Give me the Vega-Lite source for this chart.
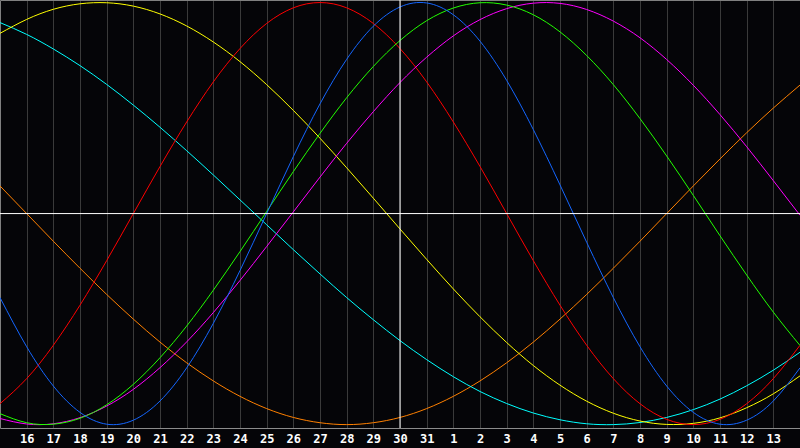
{
  "$schema": "https://vega.github.io/schema/vega-lite/v6.json",
  "width": 800,
  "height": 428,
  "autosize": {"type": "none"},
  "padding": {"left": 0, "top": 0, "right": 0, "bottom": 20},
  "background": "#050508",
  "config": {"view": {"stroke": null}},
  "layer": [
    {
      "data": {"values": [
        {"t":0,"physical":-0.398,"emotional":-0.901,"intellectual":-0.948,"intuitive":-0.971,"aesthetic":0.854,"awareness":0.131,"spiritual":0.905},
        {"t":1,"physical":-0.631,"emotional":-0.782,"intellectual":-0.991,"intuitive":-0.997,"aesthetic":0.920,"awareness":0,"spiritual":0.849},
        {"t":2,"physical":-0.817,"emotional":-0.624,"intellectual":-0.998,"intuitive":-0.996,"aesthetic":0.968,"awareness":-0.131,"spiritual":0.780},
        {"t":3,"physical":-0.942,"emotional":-0.434,"intellectual":-0.970,"intuitive":-0.967,"aesthetic":0.994,"awareness":-0.259,"spiritual":0.701},
        {"t":4,"physical":-0.998,"emotional":-0.223,"intellectual":-0.906,"intuitive":-0.912,"aesthetic":0.999,"awareness":-0.383,"spiritual":0.612},
        {"t":5,"physical":-0.979,"emotional":0,"intellectual":-0.809,"intuitive":-0.833,"aesthetic":0.983,"awareness":-0.5,"spiritual":0.514},
        {"t":6,"physical":-0.888,"emotional":0.223,"intellectual":-0.683,"intuitive":-0.730,"aesthetic":0.946,"awareness":-0.609,"spiritual":0.409},
        {"t":7,"physical":-0.731,"emotional":0.434,"intellectual":-0.533,"intuitive":-0.608,"aesthetic":0.889,"awareness":-0.707,"spiritual":0.298},
        {"t":8,"physical":-0.520,"emotional":0.624,"intellectual":-0.363,"intuitive":-0.469,"aesthetic":0.813,"awareness":-0.793,"spiritual":0.183},
        {"t":9,"physical":-0.270,"emotional":0.782,"intellectual":-0.180,"intuitive":-0.317,"aesthetic":0.720,"awareness":-0.866,"spiritual":0.065},
        {"t":10,"physical":0,"emotional":0.901,"intellectual":0.010,"intuitive":-0.156,"aesthetic":0.611,"awareness":-0.924,"spiritual":-0.053},
        {"t":11,"physical":0.270,"emotional":0.975,"intellectual":0.199,"intuitive":0.008,"aesthetic":0.489,"awareness":-0.966,"spiritual":-0.171},
        {"t":12,"physical":0.520,"emotional":1,"intellectual":0.380,"intuitive":0.173,"aesthetic":0.357,"awareness":-0.991,"spiritual":-0.286},
        {"t":13,"physical":0.731,"emotional":0.975,"intellectual":0.549,"intuitive":0.333,"aesthetic":0.217,"awareness":-1,"spiritual":-0.398},
        {"t":14,"physical":0.888,"emotional":0.901,"intellectual":0.697,"intuitive":0.483,"aesthetic":0.073,"awareness":-0.991,"spiritual":-0.503},
        {"t":15,"physical":0.979,"emotional":0.782,"intellectual":0.820,"intuitive":0.621,"aesthetic":-0.073,"awareness":-0.966,"spiritual":-0.602},
        {"t":16,"physical":0.998,"emotional":0.624,"intellectual":0.914,"intuitive":0.741,"aesthetic":-0.217,"awareness":-0.924,"spiritual":-0.692},
        {"t":17,"physical":0.942,"emotional":0.434,"intellectual":0.974,"intuitive":0.842,"aesthetic":-0.357,"awareness":-0.866,"spiritual":-0.773},
        {"t":18,"physical":0.817,"emotional":0.223,"intellectual":0.999,"intuitive":0.919,"aesthetic":-0.489,"awareness":-0.793,"spiritual":-0.843},
        {"t":19,"physical":0.631,"emotional":0,"intellectual":0.988,"intuitive":0.971,"aesthetic":-0.611,"awareness":-0.707,"spiritual":-0.900},
        {"t":20,"physical":0.398,"emotional":-0.223,"intellectual":0.942,"intuitive":0.997,"aesthetic":-0.720,"awareness":-0.609,"spiritual":-0.945},
        {"t":21,"physical":0.136,"emotional":-0.434,"intellectual":0.861,"intuitive":0.996,"aesthetic":-0.813,"awareness":-0.5,"spiritual":-0.977},
        {"t":22,"physical":-0.136,"emotional":-0.624,"intellectual":0.749,"intuitive":0.967,"aesthetic":-0.889,"awareness":-0.383,"spiritual":-0.996},
        {"t":23,"physical":-0.398,"emotional":-0.782,"intellectual":0.611,"intuitive":0.912,"aesthetic":-0.946,"awareness":-0.259,"spiritual":-1.000},
        {"t":24,"physical":-0.631,"emotional":-0.901,"intellectual":0.450,"intuitive":0.833,"aesthetic":-0.983,"awareness":-0.131,"spiritual":-0.990},
        {"t":25,"physical":-0.817,"emotional":-0.975,"intellectual":0.273,"intuitive":0.730,"aesthetic":-0.999,"awareness":0,"spiritual":-0.966},
        {"t":26,"physical":-0.942,"emotional":-1,"intellectual":0.086,"intuitive":0.608,"aesthetic":-0.994,"awareness":0.131,"spiritual":-0.929},
        {"t":27,"physical":-0.998,"emotional":-0.975,"intellectual":-0.105,"intuitive":0.469,"aesthetic":-0.968,"awareness":0.259,"spiritual":-0.879},
        {"t":28,"physical":-0.979,"emotional":-0.901,"intellectual":-0.291,"intuitive":0.317,"aesthetic":-0.920,"awareness":0.383,"spiritual":-0.816},
        {"t":29,"physical":-0.888,"emotional":-0.782,"intellectual":-0.467,"intuitive":0.156,"aesthetic":-0.854,"awareness":0.5,"spiritual":-0.742},
        {"t":30,"physical":-0.731,"emotional":-0.624,"intellectual":-0.625,"intuitive":-0.008,"aesthetic":-0.769,"awareness":0.609,"spiritual":-0.657}
      ]},
      "transform": [
        {"fold": ["awareness","spiritual","aesthetic","emotional","intuitive","intellectual","physical"], "as": ["series","v"]}
      ],
      "mark": {"type": "line", "interpolate": "natural", "strokeWidth": 1, "clip": true},
      "encoding": {
        "x": {"field": "t", "type": "quantitative",
              "scale": {"domain": [0, 30], "nice": false, "zero": false},
              "axis": {"orient": "bottom", "title": null, "values": [1,2,3,4,5,6,7,8,9,10,11,12,13,14,15,16,17,18,19,20,21,22,23,24,25,26,27,28,29],
                       "labelExpr": "datum.value <= 16 ? datum.value + 15 : datum.value - 16",
                       "grid": true, "gridColor": "#3a3a3a", "gridWidth": 1,
                       "ticks": false, "domainColor": "#8c8c8c", "domainWidth": 1,
                       "labelColor": "#ffffff", "labelFont": "DejaVu Sans Mono", "labelFontWeight": "bold", "labelFontSize": 12,
                       "labelPadding": 5, "labelFlush": false, "labelOverlap": false}},
        "y": {"field": "v", "type": "quantitative",
              "scale": {"domain": [-1.016, 1.012], "nice": false, "zero": false},
              "axis": {"orient": "left", "title": null, "labels": false, "ticks": false, "grid": false, "domainColor": "#808080"}},
        "color": {"field": "series", "type": "nominal", "legend": null,
                  "scale": {"domain": ["physical","emotional","intellectual","intuitive","aesthetic","awareness","spiritual"],
                            "range": ["#1466ff","#ff0000","#22ff00","#ff00ff","#ffff00","#ff8000","#00ffff"]}},
        "order": {"field": "t"}
      }
    },
    {
      "data": {"values": [{}]},
      "mark": {"type": "rule", "color": "#ffffff", "strokeWidth": 1},
      "encoding": {
        "x": {"datum": 15, "axis": {"orient": "top", "title": null, "labels": false, "ticks": false, "grid": false, "domainColor": "#808080"}}
      }
    },
    {
      "data": {"values": [{}]},
      "mark": {"type": "rule", "color": "#ffffff", "strokeWidth": 1},
      "encoding": {
        "y": {"datum": 0}
      }
    }
  ]
}
